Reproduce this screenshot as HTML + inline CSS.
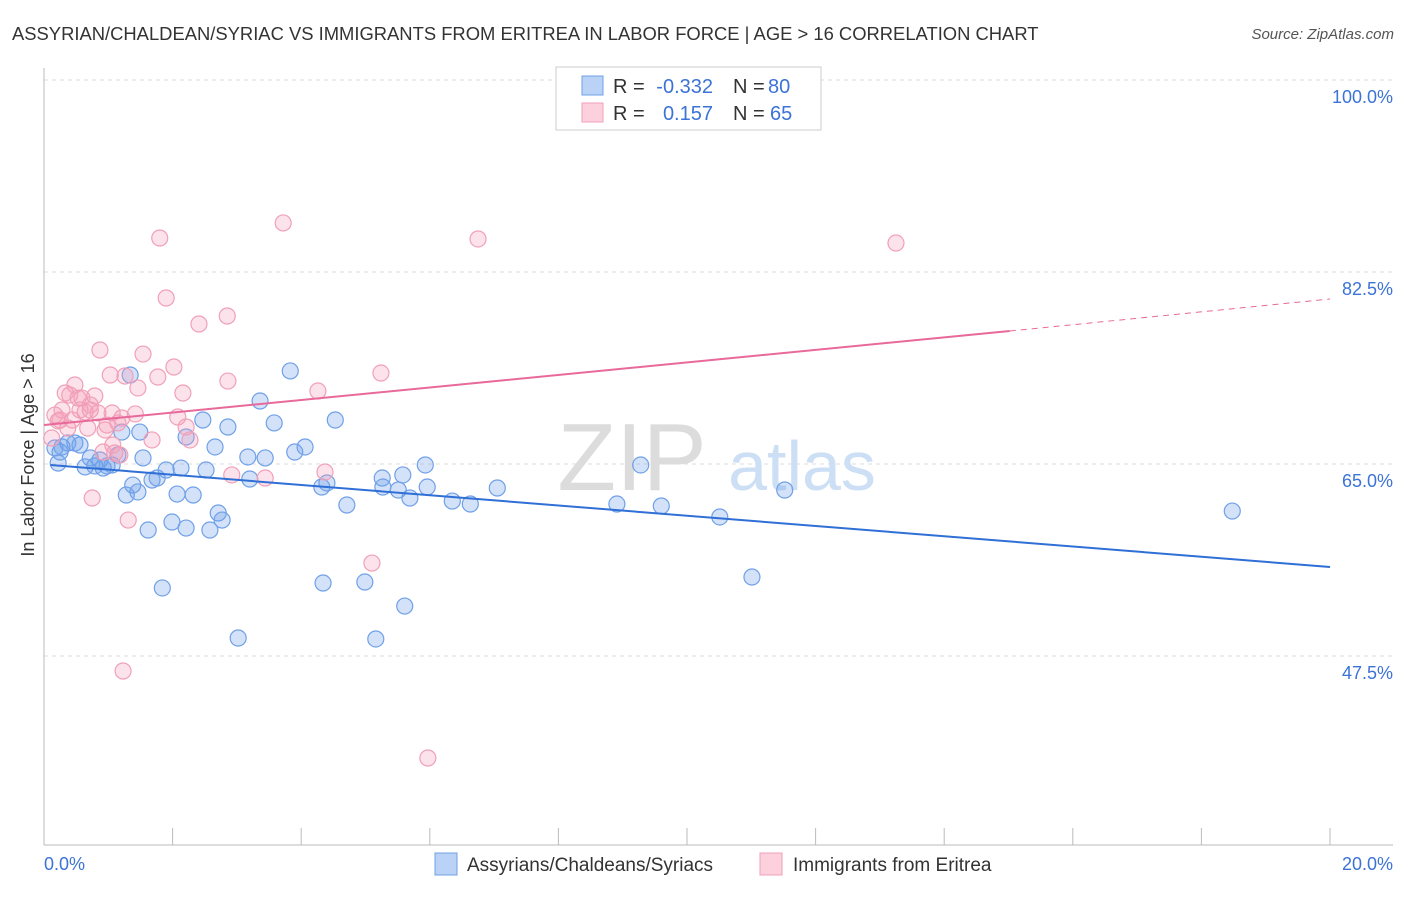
<!DOCTYPE html>
<html><head><meta charset="utf-8"><style>
body{margin:0;background:#fff;font-family:"Liberation Sans",sans-serif}
svg text{font-family:"Liberation Sans",sans-serif}
</style></head><body>
<svg width="1406" height="892">
<text x="12" y="40" font-size="18.4" fill="#333">ASSYRIAN/CHALDEAN/SYRIAC VS IMMIGRANTS FROM ERITREA IN LABOR FORCE | AGE &gt; 16 CORRELATION CHART</text>
<text x="1394" y="39" font-size="15" fill="#555" font-style="italic" text-anchor="end">Source: ZipAtlas.com</text>
<g id="grid"></g>
<g>
<text x="632" y="490" font-size="96" fill="#dcdcdc" font-family="Liberation Serif,serif" text-anchor="middle">ZIP</text>
<text x="802" y="490" font-size="70" fill="#cddff4" text-anchor="middle">atlas</text>
</g>
<text transform="translate(34,455) rotate(-90)" font-size="18" fill="#333" text-anchor="middle">In Labor Force | Age &gt; 16</text>
<text x="44" y="870" font-size="18" fill="#3b73d6">0.0%</text>
<text x="1393" y="870" font-size="18" fill="#3b73d6" text-anchor="end">20.0%</text>
<g id="pts"></g>
<g id="trends"></g>
<g>
<rect x="556" y="67" width="265" height="63" fill="#fff" stroke="#ccc"/>
<rect x="582" y="76" width="21" height="19" fill="#b9d2f5" stroke="#6fa0e8"/>
<rect x="582" y="103" width="21" height="19" fill="#fcd0dd" stroke="#f0a0b8"/>
<text x="613" y="93" font-size="20" fill="#333">R =</text>
<text x="713" y="93" font-size="20" fill="#3b73d6" text-anchor="end">-0.332</text>
<text x="733" y="93" font-size="20" fill="#333">N =</text>
<text x="768" y="93" font-size="20" fill="#3b73d6">80</text>
<text x="613" y="120" font-size="20" fill="#333">R =</text>
<text x="713" y="120" font-size="20" fill="#3b73d6" text-anchor="end">0.157</text>
<text x="733" y="120" font-size="20" fill="#333">N =</text>
<text x="770" y="120" font-size="20" fill="#3b73d6">65</text>
</g>
<g>
<rect x="435" y="853" width="22" height="22" fill="#b9d2f5" stroke="#6fa0e8"/>
<text x="467" y="871" font-size="19" fill="#333">Assyrians/Chaldeans/Syriacs</text>
<rect x="760" y="853" width="22" height="22" fill="#fcd0dd" stroke="#f0a0b8"/>
<text x="793" y="871" font-size="19" fill="#333">Immigrants from Eritrea</text>
</g>
</svg>
<script>
const yTicks=[100,82.5,65,47.5];
const yTickLabels=["100.0%","82.5%","65.0%","47.5%"];
const xTicks=[0,2,4,6,8,10,12,14,16,18,20];
const blueX=[0.17,0.22,0.25,0.28,0.37,0.48,0.56,0.64,0.72,0.79,0.87,0.92,0.98,1.06,1.15,1.21,1.28,1.34,1.38,1.46,1.49,1.54,1.62,1.68,1.76,1.84,1.90,1.99,2.07,2.13,2.21,2.21,2.32,2.47,2.52,2.58,2.66,2.71,2.77,2.86,3.02,3.17,3.20,3.36,3.44,3.58,3.83,3.90,4.06,4.32,4.34,4.40,4.53,4.71,4.99,5.16,5.26,5.27,5.51,5.58,5.61,5.69,5.93,5.96,6.35,6.63,7.05,8.91,9.28,9.60,10.51,11.01,11.52,18.48];
const blueY=[66.46,65.09,66.09,66.55,66.91,66.91,66.73,64.73,65.55,64.82,65.36,64.63,64.82,64.91,65.82,67.91,62.17,73.11,63.08,62.45,67.91,65.55,58.98,63.54,63.72,53.70,64.45,59.71,62.26,64.63,59.16,67.46,62.17,69.01,64.45,58.98,66.55,60.53,59.89,68.37,49.14,65.64,63.63,70.74,65.55,68.74,73.48,66.09,66.55,62.90,54.15,63.27,69.01,61.26,54.24,49.05,63.72,62.90,62.63,64.00,52.05,61.90,64.91,62.90,61.62,61.35,62.81,61.35,64.91,61.17,60.17,54.70,62.63,60.71];
const pinkX=[0.12,0.17,0.22,0.28,0.33,0.37,0.44,0.48,0.53,0.59,0.64,0.68,0.72,0.75,0.79,0.84,0.87,0.92,0.98,1.03,1.06,1.07,1.10,1.15,1.18,1.21,1.23,1.26,1.31,1.42,1.46,1.54,1.68,1.77,1.80,1.90,2.02,2.08,2.16,2.21,2.27,2.41,2.85,2.86,2.92,3.44,3.72,4.26,4.37,5.10,5.24,5.97,6.75,13.25,0.25,0.40,0.56,0.72,0.95];
const pinkY=[67.37,69.46,68.92,69.92,71.47,68.28,69.01,72.20,71.01,71.01,69.74,68.28,69.92,61.90,71.20,69.65,75.39,66.09,68.55,73.11,69.65,66.73,66.00,68.74,65.82,69.19,46.13,73.02,59.89,69.56,71.93,75.02,67.19,72.93,85.60,80.13,73.84,69.28,71.47,68.37,67.19,77.76,78.49,72.56,64.00,63.72,86.97,71.65,64.27,55.97,73.29,38.20,85.51,85.14,69.01,71.29,69.92,70.38,68.10];
const blueTrendX=[0.1,20];
const blueTrendY=[64.91,55.61];
const pinkTrendX=[0,15.02,20];
const pinkTrendY=[68.55,77.12,80.04];
const NS="http://www.w3.org/2000/svg";
const sx=v=>44+v*64.3;
const sy=v=>80+(100-v)*10.971;
function mk(tag,attrs,parent){const e=document.createElementNS(NS,tag);for(const k in attrs)e.setAttribute(k,attrs[k]);parent.appendChild(e);return e;}
const grid=document.getElementById('grid');
yTicks.forEach((t,i)=>{
 const l=mk('line',{x1:44,x2:1393,y1:sy(t),y2:sy(t),stroke:'#ddd','stroke-dasharray':'4,4'},grid);
 
 
 const tx=mk('text',{x:1393,y:sy(t)+23,'font-size':18,fill:'#3b73d6','text-anchor':'end'},grid);
 tx.textContent=yTickLabels[i];
 
 
});
const ax=mk('line',{x1:44,x2:1393,y1:845,y2:845,stroke:'#bbb'},grid);


const ay=mk('line',{x1:44,x2:44,y1:68,y2:845,stroke:'#bbb'},grid);


xTicks.forEach(t=>{
 const l=mk('line',{x1:sx(t),x2:sx(t),y1:828,y2:845,stroke:'#bbb'},grid);
 
 
});
const pts=document.getElementById('pts');
blueX.forEach((x,i)=>{
 const c=mk('circle',{cx:sx(x),cy:sy(blueY[i]),r:8,fill:'rgba(110,160,232,0.3)',stroke:'#6fa0e8','stroke-width':1.2},pts);
 
 
});
pinkX.forEach((x,i)=>{
 const c=mk('circle',{cx:sx(x),cy:sy(pinkY[i]),r:8,fill:'rgba(245,160,185,0.3)',stroke:'#f0a0b8','stroke-width':1.2},pts);
 
 
});
const tr=document.getElementById('trends');
const bl=mk('line',{x1:sx(blueTrendX[0]),y1:sy(blueTrendY[0]),x2:sx(blueTrendX[1]),y2:sy(blueTrendY[1]),stroke:'#2f6fd6','stroke-width':2},tr);


const pl=mk('line',{x1:sx(pinkTrendX[0]),y1:sy(pinkTrendY[0]),x2:sx(pinkTrendX[1]),y2:sy(pinkTrendY[1]),stroke:'#e8699a','stroke-width':2},tr);


const pd=mk('line',{x1:sx(pinkTrendX[1]),y1:sy(pinkTrendY[1]),x2:sx(pinkTrendX[2]),y2:sy(pinkTrendY[2]),stroke:'#e8699a','stroke-width':1,'stroke-dasharray':'6,5'},tr);


</script>
</body></html>
